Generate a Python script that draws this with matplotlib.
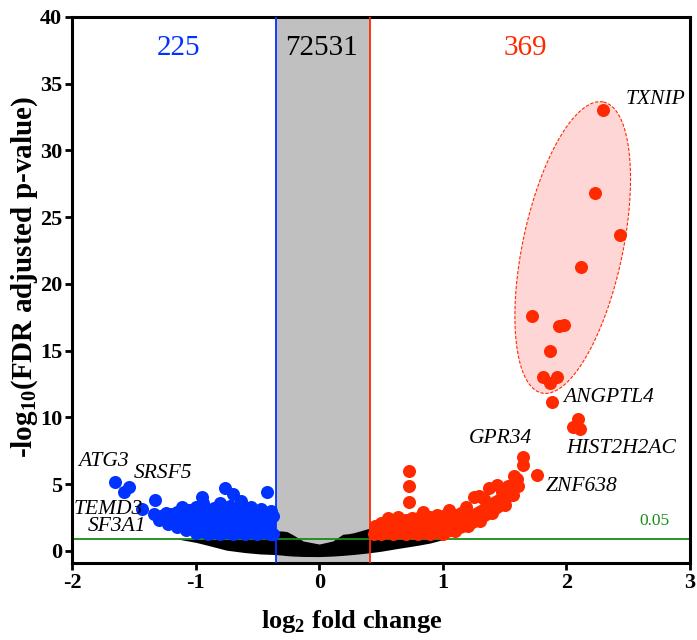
import numpy as np
import matplotlib
matplotlib.use('Agg')
import matplotlib.pyplot as plt

plt.rcParams['font.family'] = ['Liberation Serif', 'DejaVu Serif']
plt.rcParams['mathtext.fontset'] = 'custom'
plt.rcParams['mathtext.rm'] = 'Liberation Serif'
plt.rcParams['mathtext.bf'] = 'Liberation Serif:bold'
plt.rcParams['axes.unicode_minus'] = False

# colours
BLUE = '#0033ff'
RED = '#ff2a00'
GREEN = '#1a8c1a'

# thresholds
fc_down, fc_up = -0.35, 0.41
sig_line = 0.9

# counts shown on top
n_down, n_ns, n_up = '225', '72531', '369'

# not-significant mass (black): envelope of the point cloud
black_x = [-1.15, -1.0, -0.9, -0.75, -0.6, -0.48, -0.35, -0.3, -0.26, -0.21, -0.13, 0.0,
           0.11, 0.19, 0.24, 0.28, 0.33, 0.41, 0.5, 0.63, 0.8, 0.9, 1.02]
black_lo = [0.9, 0.65, 0.42, 0.06, -0.12, -0.22, -0.27, -0.31, -0.35, -0.38, -0.41, -0.42,
            -0.38, -0.33, -0.29, -0.26, -0.21, -0.13, -0.02, 0.18, 0.43, 0.6, 0.9]
black_hi = [0.9, 0.9, 0.9, 0.9, 0.9, 1.2, 1.5, 1.5, 1.45, 1.2, 0.75, 0.52,
            0.75, 1.25, 1.3, 1.37, 1.5, 1.72, 1.3, 0.9, 0.9, 0.9, 0.9]

# down-regulated dense area (blue)
blue_x = [-1.36, -1.3, -1.2, -1.1, -1.0, -0.9, -0.8, -0.7, -0.6, -0.5, -0.4, -0.355]
blue_lo = [2.6, 2.35, 2.0, 1.55, 1.05, 0.92, 0.92, 0.92, 0.92, 0.92, 0.92, 0.92]
blue_hi = [2.8, 2.8, 2.8, 2.9, 2.9, 2.9, 2.9, 2.9, 2.9, 2.9, 2.8, 2.8]

blue_px = [-1.65, -1.54, -1.58, -1.43, -1.33, -1.11, -0.95, -0.94, -0.80, -0.76, -0.70,
           -0.63, -0.42, -0.39, -0.88, -1.0, -1.05, -0.85, -0.72, -0.55, -0.47,
           -1.34, -1.28, -1.2, -1.15, -1.05, -0.98, -0.9, -0.84, -0.75, -0.68, -0.6,
           -0.55, -0.5, -0.45, -0.4, -0.37, -1.24, -1.1, -0.93, -0.78, -0.64, -0.52,
           -1.3, -1.22, -1.15, -1.08, -1.0, -0.9, -0.8, -0.7, -0.6, -0.5, -0.4, -0.37]
blue_py = [5.2, 4.8, 4.4, 3.15, 3.8, 3.3, 4.05, 3.6, 3.6, 4.75, 4.3,
           3.75, 4.4, 3.0, 2.9, 3.3, 3.1, 3.2, 3.35, 3.3, 3.15,
           2.75, 2.65, 2.75, 2.9, 2.8, 3.0, 2.8, 3.0, 2.8, 3.0, 2.9,
           2.75, 3.0, 2.8, 2.7, 2.6, 2.85, 3.0, 3.0, 3.05, 3.0, 2.95,
           2.35, 2.05, 1.8, 1.55, 1.32, 1.28, 1.28, 1.28, 1.28, 1.28, 1.28, 1.28]

# up-regulated dense area (red)
red_x = [0.41, 0.5, 0.6, 0.7, 0.8, 0.9, 1.0, 1.1, 1.2, 1.3, 1.4, 1.5, 1.57, 1.62]
red_lo = [0.95, 0.92, 0.92, 0.92, 0.92, 0.92, 0.95, 1.15, 1.5, 1.9, 2.5, 3.1, 3.9, 4.8]
red_hi = [1.9, 2.1, 2.3, 2.4, 2.5, 2.6, 2.7, 2.8, 3.0, 3.5, 4.1, 4.6, 5.2, 5.8]

red_px = [0.73, 0.73, 0.73, 1.65, 1.65, 1.76, 1.58, 1.44, 1.37, 1.29, 1.25, 1.19,
          1.05, 0.84, 0.64, 0.56, 0.48, 0.75, 0.95,
          0.45, 0.5, 0.6, 0.7, 0.8, 0.9, 1.0, 1.1, 1.15, 1.33, 1.48, 1.53, 1.6,
          0.44, 0.5, 0.6, 0.7, 0.8, 0.9, 1.0, 1.1, 1.2, 1.3, 1.4, 1.5, 1.57, 1.61,
          # top hits
          2.30, 2.23, 2.43, 2.12, 1.72, 1.94, 1.98, 1.87, 1.81, 1.92, 1.87,
          1.88, 2.09, 2.05, 2.11]
red_py = [6.0, 4.9, 3.65, 7.05, 6.45, 5.7, 5.6, 4.95, 4.7, 4.1, 4.05, 3.28,
          3.08, 2.95, 2.57, 2.45, 1.95, 2.45, 2.7,
          1.9, 2.1, 2.2, 2.3, 2.45, 2.55, 2.6, 2.7, 2.85, 3.9, 4.4, 4.9, 5.4,
          1.3, 1.28, 1.28, 1.28, 1.28, 1.28, 1.3, 1.5, 1.85, 2.25, 2.85, 3.45, 4.2, 4.9,
          33.0, 26.8, 23.65, 21.25, 17.6, 16.85, 16.95, 14.95, 13.05, 13.05, 12.6,
          11.15, 9.9, 9.28, 9.13]

# gene labels (text, x, y)
lab_down = [('ATG3', -1.95, 6.7), ('SRSF5', -1.50, 5.8), ('TEMD3', -1.99, 3.1), ('SF3A1', -1.87, 1.8)]
lab_up = [('TXNIP', 2.48, 33.8), ('ANGPTL4', 1.97, 11.5), ('HIST2H2AC', 2.0, 7.65),
          ('GPR34', 1.21, 8.4), ('ZNF638', 1.83, 4.8)]

# highlight ellipse: centre and two half-axis vectors (data units)
ell_c = (2.051, 22.73)
ell_u = (0.249, 10.9)
ell_v = (0.396, -0.776)

fig = plt.figure(figsize=(6.97, 6.4), dpi=100)
ax = fig.add_axes([72 / 697, 77 / 640, 618 / 697, 546 / 640])

ax.axvspan(fc_down, fc_up, color='#c0c0c0', zorder=0, lw=0)
ax.fill_between(black_x, black_lo, black_hi, color='black', lw=0, zorder=1)
ax.axhline(sig_line, color=GREEN, lw=1.3, zorder=2)

t = np.linspace(0, 2 * np.pi, 300)
ex = ell_c[0] + ell_u[0] * np.cos(t) + ell_v[0] * np.sin(t)
ey = ell_c[1] + ell_u[1] * np.cos(t) + ell_v[1] * np.sin(t)
ax.fill(ex, ey, facecolor='#ffd6d6', edgecolor=RED, linestyle=(0, (3, 1.5)), lw=0.8, zorder=2)

ax.fill_between(blue_x, blue_lo, blue_hi, color=BLUE, lw=0, zorder=3)
ax.scatter(blue_px, blue_py, s=88, color=BLUE, lw=0, zorder=3)
ax.fill_between(red_x, red_lo, red_hi, color=RED, lw=0, zorder=3)
ax.scatter(red_px, red_py, s=88, color=RED, lw=0, zorder=3)

ax.axvline(fc_down, color=BLUE, lw=1.3, zorder=4)
ax.axvline(fc_up, color=RED, lw=1.3, zorder=4)

ax.text(-1.14, 37.7, n_down, color=BLUE, fontsize=21, ha='center', va='center')
ax.text(0.02, 37.7, n_ns, color='black', fontsize=21, ha='center', va='center')
ax.text(1.67, 37.7, n_up, color=RED, fontsize=21, ha='center', va='center')
ax.text(2.59, 2.25, '0.05', color=GREEN, fontsize=12.5, ha='left', va='center')

for name, x, y in lab_down + lab_up:
    ax.text(x, y, name, fontsize=15.5, style='italic', ha='left', va='center')

ax.set_xlim(-2, 3)
ax.set_ylim(-0.9, 40)
ax.set_xticks([-2, -1, 0, 1, 2, 3])
ax.set_yticks(range(0, 41, 5))
for lab in ax.get_xticklabels() + ax.get_yticklabels():
    lab.set_fontweight('bold')
ax.tick_params(labelsize=16, width=2, length=5, direction='out', pad=2)
for sp in ax.spines.values():
    sp.set_linewidth(2.2)

ax.set_xlabel(r'log$_\mathbf{2}$ fold change', fontsize=19, fontweight='bold')
ax.xaxis.set_label_coords(0.453, -0.083)
ax.set_ylabel(r'-log$_\mathbf{10}$(FDR adjusted p-value)', fontsize=21, fontweight='bold')
ax.yaxis.set_label_coords(-0.052, 0.524)

fig.savefig('out.png', dpi=100)
